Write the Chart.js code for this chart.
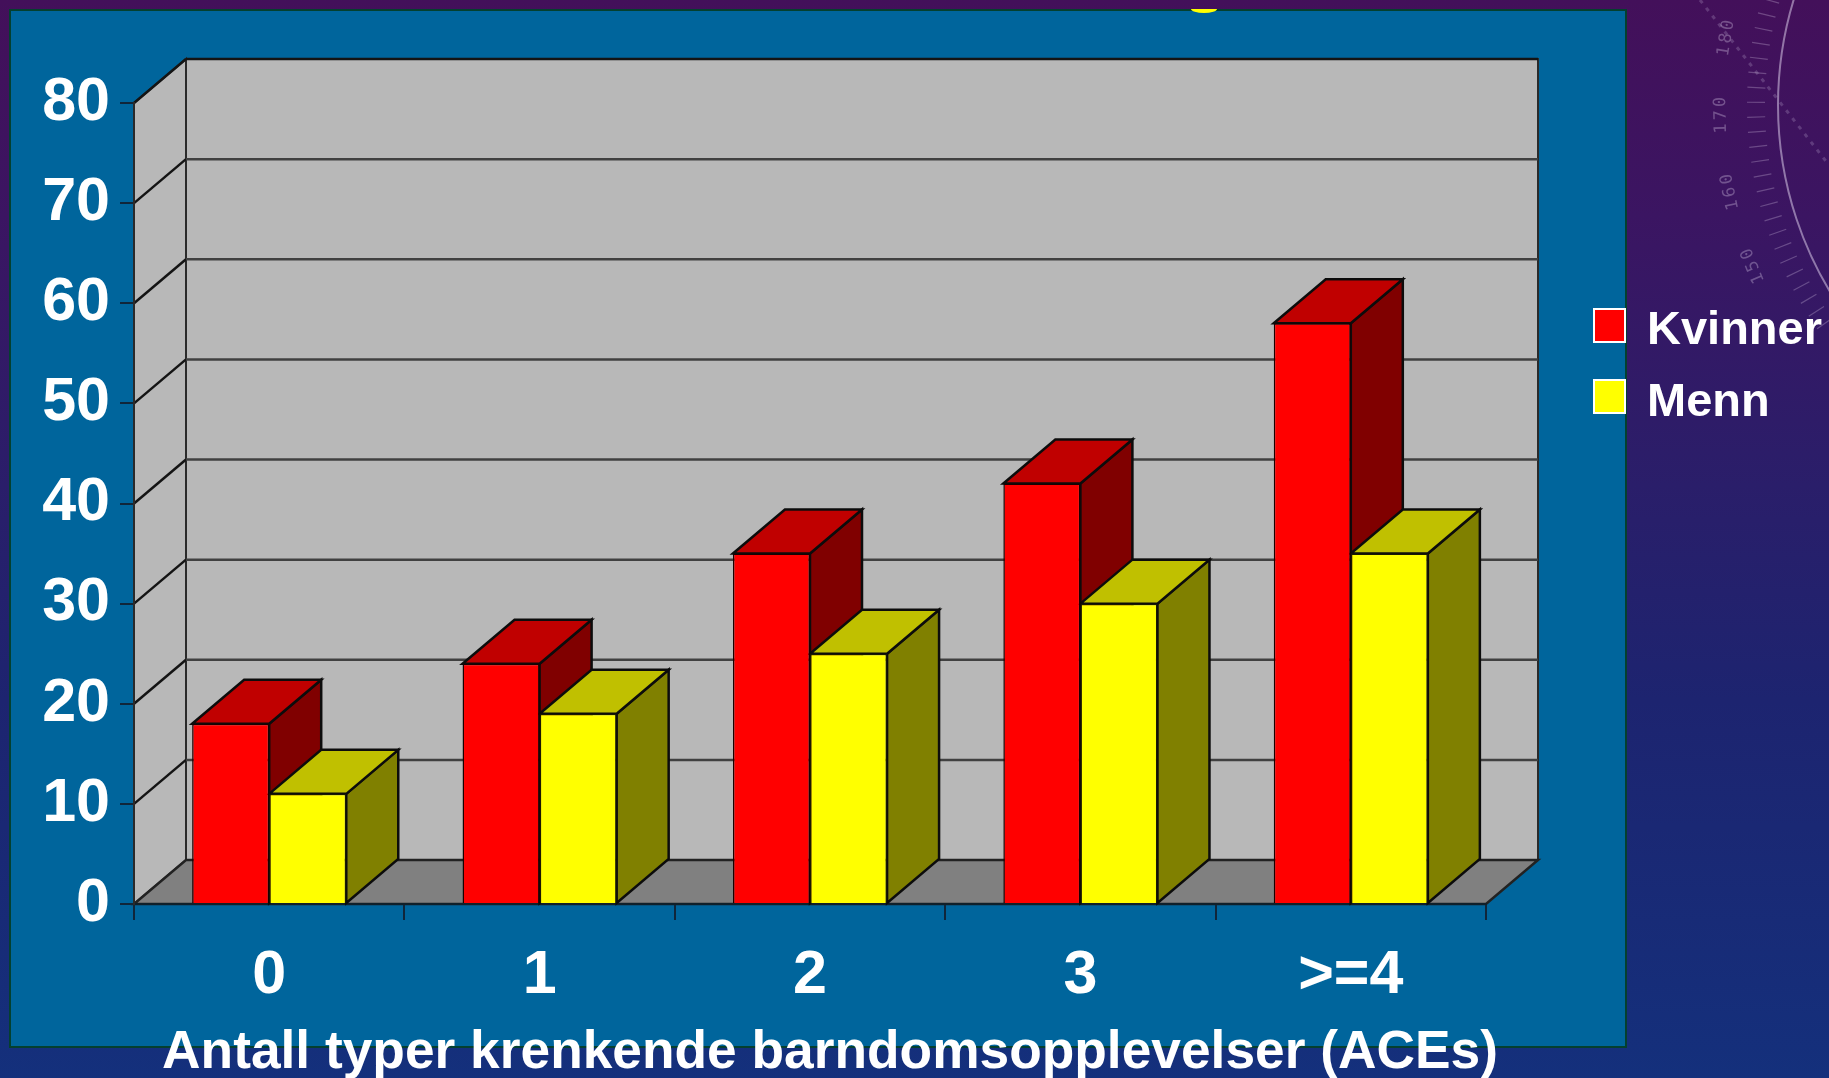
<!DOCTYPE html>
<html>
<head>
<meta charset="utf-8">
<title>ACEs</title>
<script src="https://cdn.jsdelivr.net/npm/chart.js@4/dist/chart.umd.js"></script>
<style>
    html, body { margin: 0; padding: 0; width: 1829px; height: 1078px; overflow: hidden; }
    body { background: linear-gradient(180deg, #43105a 0%, #3b1562 20%, #2a1e6a 45%, #1d2470 65%, #14307c 100%); }
    canvas { display: block; filter: blur(0.7px); }
</style>
</head>
<body>
<canvas id="acesChart" width="1829" height="1078"></canvas>
<script>
const categories = ['0', '1', '2', '3', '>=4'];
const womenValues = [18, 24, 35, 42, 58];
const menValues = [11, 19, 25, 30, 35];
const seriesNames = ['Kvinner', 'Menn'];
const axisTitle = 'Antall typer krenkende barndomsopplevelser (ACEs)';
const dialLabels = ['180', '170', '160', '150'];

const depthX = 52;
const depthY = 44;

function poly(ctx, pts, fill, stroke, lw) {
    ctx.beginPath();
    pts.forEach((p, i) => i ? ctx.lineTo(p[0], p[1]) : ctx.moveTo(p[0], p[1]));
    ctx.closePath();
    if (fill) { ctx.fillStyle = fill; ctx.fill(); }
    if (stroke) { ctx.strokeStyle = stroke; ctx.lineWidth = lw; ctx.stroke(); }
}

// protractor in the slide background, top right
function drawDial(ctx) {
    const cx = 2139, cy = 105, r = 361;
    ctx.save();
    ctx.strokeStyle = 'rgba(215,200,230,0.55)';
    ctx.lineWidth = 2;
    ctx.beginPath();
    ctx.arc(cx, cy, r, Math.PI * 0.8, Math.PI * 1.2);
    ctx.stroke();

    ctx.strokeStyle = 'rgba(215,200,230,0.3)';
    ctx.lineWidth = 1.2;
    for (let a = -18; a <= 36; a += 2.2) {
        const t = Math.PI - a * Math.PI / 180;
        ctx.beginPath();
        ctx.moveTo(cx + 374 * Math.cos(t), cy + 374 * Math.sin(t));
        ctx.lineTo(cx + 392 * Math.cos(t), cy + 392 * Math.sin(t));
        ctx.stroke();
    }

    ctx.setLineDash([4, 6]);
    ctx.lineWidth = 3;
    ctx.strokeStyle = 'rgba(215,200,230,0.22)';
    ctx.beginPath();
    ctx.moveTo(1700, 0);
    ctx.lineTo(1829, 165);
    ctx.stroke();
    ctx.setLineDash([]);

    ctx.fillStyle = 'rgba(215,200,230,0.35)';
    ctx.font = '17px "DejaVu Sans Mono"';
    ctx.letterSpacing = '3px';
    ctx.textAlign = 'center';
    ctx.textBaseline = 'middle';
    dialLabels.forEach((label, i) => {
        const phi = (-9.4 + i * 10.6) * Math.PI / 180;
        ctx.save();
        ctx.translate(cx - 418 * Math.cos(phi), cy + 418 * Math.sin(phi));
        ctx.rotate(-Math.PI / 2 - phi);
        ctx.fillText(label, 0, 0);
        ctx.restore();
    });
    ctx.letterSpacing = '0px';
    ctx.restore();
}

const sceneryPlugin = {
    id: 'scenery',
    beforeDraw(chart) {
        const { ctx, chartArea: a, scales } = chart;
        const y = scales.y;
        drawDial(ctx);

        // blue panel
        ctx.fillStyle = '#00659c';
        ctx.strokeStyle = '#04402f';
        ctx.lineWidth = 2;
        ctx.fillRect(10, 10, 1616, 1037);
        ctx.strokeRect(10, 10, 1616, 1037);

        // small yellow sliver at the top edge of the panel
        ctx.fillStyle = '#ffff00';
        ctx.beginPath();
        ctx.ellipse(1204, 9, 13, 4, 0, 0, Math.PI);
        ctx.fill();

        const top = a.top, bot = a.bottom, l = a.left, r = a.right;
        const edge = '#2a2a2a';
        // back wall, left wall, floor
        poly(ctx, [[l + depthX, top - depthY], [r + depthX, top - depthY], [r + depthX, bot - depthY], [l + depthX, bot - depthY]], '#b8b8b8', edge, 2);
        poly(ctx, [[l, top], [l + depthX, top - depthY], [l + depthX, bot - depthY], [l, bot]], '#b8b8b8', edge, 2);
        poly(ctx, [[l, bot], [l + depthX, bot - depthY], [r + depthX, bot - depthY], [r, bot]], '#808080', '#222', 2.5);

        // grid lines run over the side wall and on along the back wall
        y.ticks.forEach(t => {
            if (t.value === 0) return;
            const py = y.getPixelForValue(t.value);
            ctx.strokeStyle = '#141414';
            ctx.lineWidth = 2.5;
            ctx.beginPath();
            ctx.moveTo(l, py);
            ctx.lineTo(l + depthX, py - depthY);
            ctx.stroke();
            ctx.strokeStyle = t.value === 80 ? '#141414' : '#404040';
            ctx.lineWidth = 2.5;
            ctx.beginPath();
            ctx.moveTo(l + depthX, py - depthY);
            ctx.lineTo(r + depthX, py - depthY);
            ctx.stroke();
        });
    },
    beforeDatasetsDraw(chart) {
        const { ctx } = chart;
        const tops = ['#c00000', '#c0c000'];
        const sides = ['#800000', '#808000'];
        categories.forEach((c, i) => {
            [0, 1].forEach(d => {
                const bar = chart.getDatasetMeta(d).data[i];
                const half = bar.width / 2;
                const x0 = bar.x - half, x1 = bar.x + half, y0 = bar.y, y1 = bar.base;
                poly(ctx, [[x1, y0], [x1 + depthX, y0 - depthY], [x1 + depthX, y1 - depthY], [x1, y1]], sides[d], '#0c0c0c', 2.5);
                poly(ctx, [[x0, y0], [x0 + depthX, y0 - depthY], [x1 + depthX, y0 - depthY], [x1, y0]], tops[d], '#0c0c0c', 2.5);
            });
        });
    },
    afterDraw(chart) {
        const { ctx } = chart;
        ctx.save();
        // legend
        const colors = ['#ff0000', '#ffff00'];
        const boxY = [309, 380];
        const textY = [344, 416];
        seriesNames.forEach((name, i) => {
            ctx.fillStyle = colors[i];
            ctx.strokeStyle = '#ffffff';
            ctx.lineWidth = 2;
            ctx.fillRect(1594, boxY[i], 31, 33);
            ctx.strokeRect(1594, boxY[i], 31, 33);
            ctx.fillStyle = '#ffffff';
            ctx.font = 'bold 47px "Liberation Sans"';
            ctx.textAlign = 'left';
            ctx.textBaseline = 'alphabetic';
            ctx.fillText(name, 1647, textY[i]);
        });
        // axis title sits over the panel edge
        ctx.font = 'bold 53.3px "Liberation Sans"';
        ctx.textAlign = 'center';
        ctx.fillText(axisTitle, 830, 1068);
        ctx.restore();
    }
};

const tickFont = { family: '"Liberation Sans"', size: 61, weight: 'bold' };

new Chart(document.getElementById('acesChart'), {
    type: 'bar',
    data: {
        labels: categories,
        datasets: [
            { label: seriesNames[0], data: womenValues, backgroundColor: '#ff0000', borderColor: '#1a0000', borderWidth: 1.5 },
            { label: seriesNames[1], data: menValues, backgroundColor: '#ffff00', borderColor: '#1a1a00', borderWidth: 1.5 }
        ]
    },
    options: {
        responsive: false,
        animation: false,
        layout: { autoPadding: false, padding: { top: 103, right: 343, left: 0, bottom: 0 } },
        datasets: { bar: { categoryPercentage: 0.57, barPercentage: 1 } },
        plugins: { legend: { display: false }, tooltip: { enabled: false } },
        scales: {
            x: {
                afterFit: s => { s.height = 174; },
                grid: { offset: true, drawOnChartArea: false, tickLength: 16, color: '#10263a', lineWidth: 2 },
                border: { color: '#10202a', width: 2 },
                ticks: { color: '#ffffff', font: tickFont, padding: 20, maxRotation: 0, autoSkip: false }
            },
            y: {
                min: 0,
                max: 80,
                afterFit: s => { s.width = 134; },
                grid: { drawOnChartArea: false, tickLength: 14, color: '#10263a', lineWidth: 2 },
                border: { color: '#2a2a2a', width: 2 },
                ticks: { stepSize: 10, color: '#ffffff', font: tickFont, padding: 10 }
            }
        }
    },
    plugins: [sceneryPlugin]
});
</script>
</body>
</html>
